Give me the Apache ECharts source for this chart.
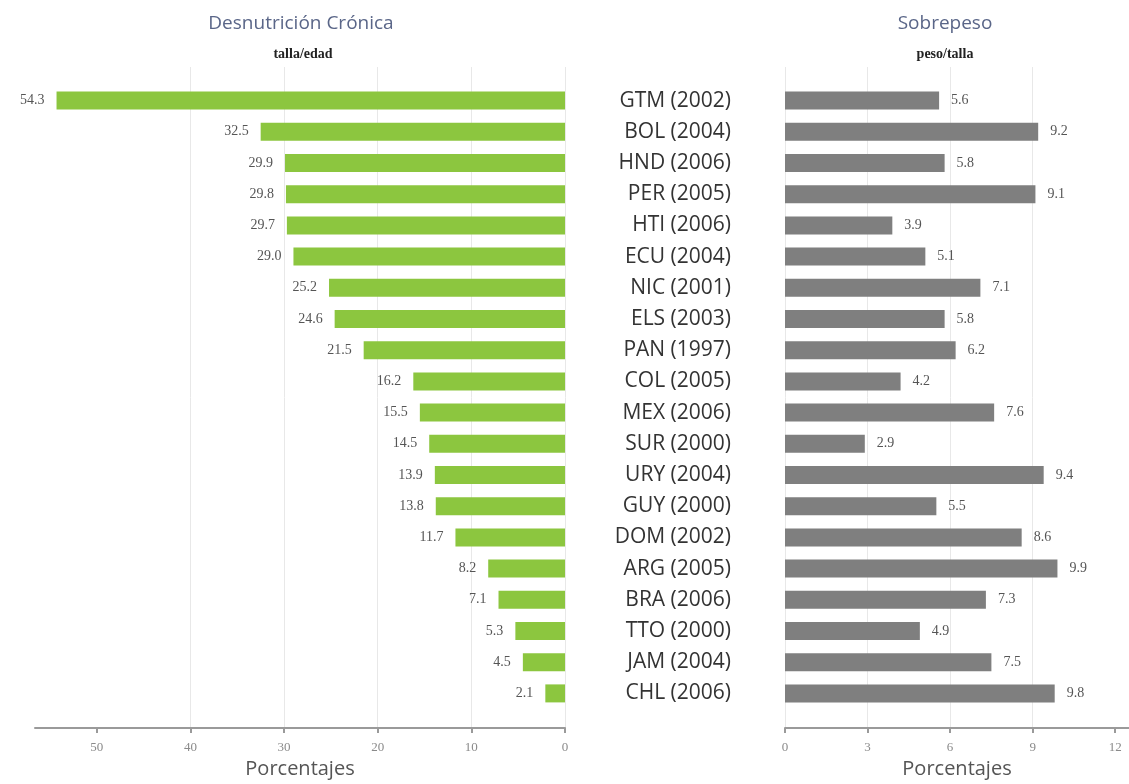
<!DOCTYPE html>
<html>
<head>
<meta charset="utf-8">
<script src="https://cdn.jsdelivr.net/npm/echarts@6/dist/echarts.min.js"></script>
<style>
  html, body { margin: 0; padding: 0; background: #fff; }
  #chart { width: 1129px; height: 784px; }
</style>
</head>
<body>
<div id="chart"></div>
<script>
const paises = ['GTM (2002)', 'BOL (2004)', 'HND (2006)', 'PER (2005)', 'HTI (2006)',
  'ECU (2004)', 'NIC (2001)', 'ELS (2003)', 'PAN (1997)', 'COL (2005)',
  'MEX (2006)', 'SUR (2000)', 'URY (2004)', 'GUY (2000)', 'DOM (2002)',
  'ARG (2005)', 'BRA (2006)', 'TTO (2000)', 'JAM (2004)', 'CHL (2006)'];
const desnutricion = [54.3, 32.5, 29.9, 29.8, 29.7, 29.0, 25.2, 24.6, 21.5, 16.2,
  15.5, 14.5, 13.9, 13.8, 11.7, 8.2, 7.1, 5.3, 4.5, 2.1];
const sobrepeso = [5.6, 9.2, 5.8, 9.1, 3.9, 5.1, 7.1, 5.8, 6.2, 4.2,
  7.6, 2.9, 9.4, 5.5, 8.6, 9.9, 7.3, 4.9, 7.5, 9.8];
const ticksIzq = [0, 10, 20, 30, 40, 50];
const ticksDer = [0, 3, 6, 9, 12];

const chart = echarts.init(document.getElementById('chart'));

const gris = '#9a9a9a';
const splitStyle = { show: true, showMaxLine: false, lineStyle: { color: '#e8e8e8', width: 1 } };
const fmt = (p) => p.value.toFixed(1);

function ejeFondo(idx, ticks, opts) {
  return Object.assign({
    gridIndex: idx, type: 'value', min: 0,
    axisLine: { show: true, lineStyle: { color: gris, width: 2 } },
    axisTick: { show: true, length: 5, customValues: ticks, lineStyle: { color: gris, width: 2 } },
    axisLabel: { color: '#8a8a8a', fontSize: 13, margin: 13, customValues: ticks, fontFamily: 'Liberation Serif' },
    splitLine: splitStyle,
    name: 'Porcentajes', nameLocation: 'middle', nameGap: 28,
    nameTextStyle: { fontSize: 20, color: '#555', fontFamily: 'Open Sans' }
  }, opts);
}

const option = {
  animation: false,
  title: [
    { text: 'Desnutrición Crónica', left: 296, top: 9, textAlign: 'center',
      textStyle: { fontSize: 19, fontWeight: 'normal', color: '#5a6688', fontFamily: 'Open Sans' } },
    { text: 'talla/edad', left: 298, top: 42, textAlign: 'center',
      textStyle: { fontSize: 14, fontWeight: 'bold', color: '#222', fontFamily: 'Liberation Serif' } },
    { text: 'Sobrepeso', left: 940, top: 9, textAlign: 'center',
      textStyle: { fontSize: 19, fontWeight: 'normal', color: '#5a6688', fontFamily: 'Open Sans' } },
    { text: 'peso/talla', left: 940, top: 42, textAlign: 'center',
      textStyle: { fontSize: 14, fontWeight: 'bold', color: '#222', fontFamily: 'Liberation Serif' } }
  ],
  grid: [
    // fondo izquierdo (lineas y eje)
    { left: 35, width: 530, top: 67, bottom: 49 },
    // barras izquierda
    { left: 35, width: 530, top: 85, bottom: 75 },
    // fondo derecho
    { left: 785, width: 344, top: 67, bottom: 49 },
    // barras derecha
    { left: 785, width: 344, top: 85, bottom: 75 }
  ],
  xAxis: [
    ejeFondo(0, ticksIzq, { inverse: true, max: 56.6, interval: 10 }),
    { gridIndex: 1, type: 'value', inverse: true, min: 0, max: 56.6, show: false },
    ejeFondo(2, ticksDer, { max: 12.5, interval: 3 }),
    { gridIndex: 3, type: 'value', min: 0, max: 12.5, show: false }
  ],
  yAxis: [
    { gridIndex: 0, type: 'category', data: paises, show: false },
    { gridIndex: 1, type: 'category', data: paises, inverse: true, show: false },
    { gridIndex: 2, type: 'category', data: paises, show: false },
    { gridIndex: 3, type: 'category', data: paises, inverse: true,
      axisLine: { show: false }, axisTick: { show: false },
      axisLabel: { show: true, margin: 54, fontSize: 21, color: '#333', fontFamily: 'Open Sans' } }
  ],
  series: [
    { name: 'Desnutrición Crónica', type: 'bar', xAxisIndex: 1, yAxisIndex: 1,
      data: desnutricion, barWidth: 18,
      itemStyle: { color: '#8cc63f' },
      label: { show: true, position: 'left', distance: 12, formatter: fmt,
        color: '#555', fontSize: 14, fontFamily: 'Liberation Serif' } },
    { name: 'Sobrepeso', type: 'bar', xAxisIndex: 3, yAxisIndex: 3,
      data: sobrepeso, barWidth: 18,
      itemStyle: { color: '#7f7f7f' },
      label: { show: true, position: 'right', distance: 12, formatter: fmt,
        color: '#555', fontSize: 14, fontFamily: 'Liberation Serif' } }
  ]
};

chart.setOption(option);
</script>
</body>
</html>
